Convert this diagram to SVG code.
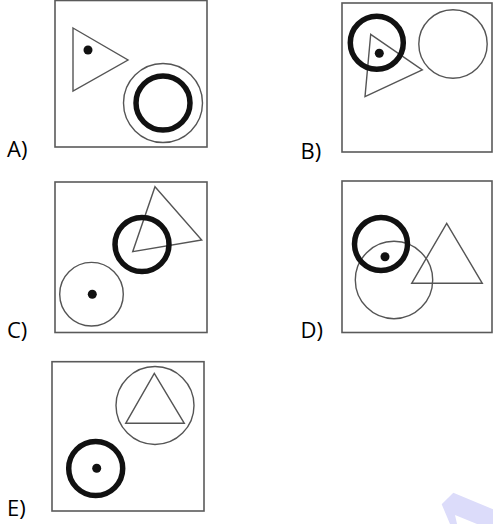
<svg xmlns="http://www.w3.org/2000/svg" width="493" height="524" viewBox="0 0 493 524">
<style>
.box{fill:none;stroke:#5a5a5a;stroke-width:1.6}
.thin{fill:none;stroke:#555;stroke-width:1.4}
.thick{fill:none;stroke:#111;stroke-width:5.5}
.tri{fill:none;stroke:#555;stroke-width:1.4;stroke-linejoin:miter}
.dot{fill:#111}
.lbl{font-family:"Open Sans","Liberation Sans",sans-serif;font-size:22px;fill:#000}
</style>
<rect width="493" height="524" fill="#fff"/>
<polygon points="441.7,504.3 453.3,492.7 493,509.3 493,524 477,524 455,515 457,524 450,524" fill="#dcdcfa"/>
<g id="A">
<rect class="box" x="55" y="0.5" width="152" height="146.5"/>
<polygon class="tri" points="73,28 128,60 73,91"/>
<circle class="dot" cx="88" cy="50" r="4.5"/>
<circle class="thin" cx="163" cy="103" r="39.5"/>
<circle class="thick" cx="163" cy="103" r="27"/>
<text class="lbl" x="7" y="157">A)</text>
</g>
<g id="B">
<rect class="box" x="342" y="3" width="150" height="149"/>
<circle class="thin" cx="453" cy="44" r="34.2"/>
<polygon class="tri" points="370.7,34.3 422.3,70 365,96.7"/>
<circle class="thick" cx="376.8" cy="42.8" r="26.5"/>
<circle class="dot" cx="379.3" cy="53.3" r="4.5"/>
<text class="lbl" x="300.5" y="159">B)</text>
</g>
<g id="C">
<rect class="box" x="55" y="182" width="152" height="150.5"/>
<polygon class="tri" points="155,186.7 201.7,240 132.7,251.7"/>
<circle class="thick" cx="142" cy="244.5" r="27"/>
<circle class="thin" cx="91.5" cy="294.2" r="31.8"/>
<circle class="dot" cx="92.3" cy="294.3" r="4.5"/>
<text class="lbl" x="7" y="338">C)</text>
</g>
<g id="D">
<rect class="box" x="342" y="181" width="150" height="151.5"/>
<circle class="thin" cx="394" cy="280" r="38.7"/>
<polygon class="tri" points="446.7,223.3 482.3,283.3 411.7,283.3"/>
<circle class="thick" cx="381" cy="244" r="26.5"/>
<circle class="dot" cx="385" cy="256.7" r="4.5"/>
<text class="lbl" x="300.5" y="338">D)</text>
</g>
<g id="E">
<rect class="box" x="52" y="361.7" width="152" height="149.3"/>
<circle class="thin" cx="155" cy="405.5" r="39"/>
<polygon class="tri" points="154.3,373.3 184.3,423.3 125.7,423.3"/>
<circle class="thick" cx="95.7" cy="468.5" r="27"/>
<circle class="dot" cx="96.7" cy="468.3" r="4.5"/>
<text class="lbl" x="7" y="515.5">E)</text>
</g>
</svg>
